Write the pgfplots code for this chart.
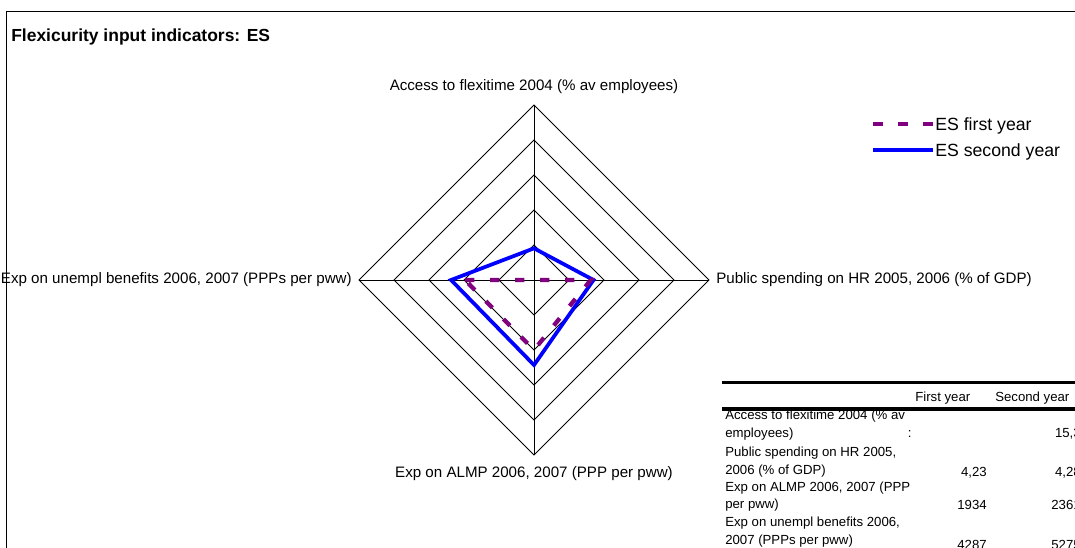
\documentclass[border=0pt]{standalone}
\usepackage{fontspec}
\setmainfont{Liberation Sans}
\usepackage{pgfplots}
\pgfplotsset{compat=1.18}
\definecolor{esPurple}{RGB}{128,0,128}
\definecolor{esBlue}{RGB}{0,0,255}
\newcommand\axlab{\fontsize{11.35}{13.6}\selectfont}
\newcommand\tabfont{\fontsize{9.9}{11.9}\selectfont}
\newcommand\legfont{\fontsize{13.25}{15.9}\selectfont}
\newcommand\titfont{\fontsize{13.1}{15.7}\selectfont\bfseries}
\begin{document}
\begin{tikzpicture}
\path[use as bounding box, clip] (0pt,0pt) rectangle (806.25pt,411pt);
\fill[white] (0pt,0pt) rectangle (806.25pt,411pt);
\begin{axis}[
  at={(400.5pt,201pt)}, anchor=origin,
  x=26.25pt, y=26.25pt,
  xmin=-5, xmax=5, ymin=-5, ymax=5,
  axis lines=none, clip=false,
  legend cell align=left,
  legend style={at={(1.462,0.9638)}, anchor=north west, draw=none, fill=none,
    inner sep=0pt, outer sep=0pt, font=\legfont,
    nodes={inner sep=0pt, text height=9.5pt, text depth=0pt},
    row sep=10pt,
    /tikz/every even column/.append style={column sep=4pt}},
  legend image code/.code={\draw[#1] (0pt,0pt) -- (45pt,0pt);},
]
% radar grid
\addplot[black, line width=0.6pt, forget plot] coordinates {(0,1)(1,0)(0,-1)(-1,0)} -- cycle;
\addplot[black, line width=0.6pt, forget plot] coordinates {(0,2)(2,0)(0,-2)(-2,0)} -- cycle;
\addplot[black, line width=0.6pt, forget plot] coordinates {(0,3)(3,0)(0,-3)(-3,0)} -- cycle;
\addplot[black, line width=0.6pt, forget plot] coordinates {(0,4)(4,0)(0,-4)(-4,0)} -- cycle;
\addplot[black, line width=0.6pt, forget plot] coordinates {(0,5)(5,0)(0,-5)(-5,0)} -- cycle;
\addplot[black, line width=0.6pt, forget plot] coordinates {(0,5)(0,-5)};
\addplot[black, line width=0.6pt, forget plot] coordinates {(-5,0)(5,0)};
% ES second year: Access (top), Public HR (right), ALMP (bottom), Unempl (left)
\addplot[esBlue, line width=2.8pt, line join=miter, forget plot] coordinates {(0,0.905)(1.70,0)(0,-2.43)(-2.37,0)} -- cycle;
% ES first year (Access missing -> 0)
\addplot[esPurple, line width=3.2pt, dash pattern=on 6.9pt off 11.85pt, forget plot] coordinates {(-1.97,0)(0,0)(1.62,0)(0,-2.0)} -- cycle;
\addlegendimage{esPurple, line width=3.5pt, dash pattern=on 7.5pt off 11.25pt}
\addlegendentry{ES first year}
\addlegendimage{esBlue, line width=3pt}
\addlegendentry{ES second year}
% category labels
\node[font=\axlab, inner sep=0pt, anchor=center] at (axis cs:0,5.514) {Access to flexitime 2004 (\% av employees)};
\node[font=\axlab, inner sep=0pt, anchor=west] at (axis cs:5.2,0) {Public spending on HR 2005, 2006 (\% of GDP)};
\node[font=\axlab, inner sep=0pt, anchor=center] at (axis cs:0,-5.52) {Exp on ALMP 2006, 2007 (PPP per pww)};
\node[font=\axlab, inner sep=0pt, anchor=east] at (axis cs:-5.2,0) {Exp on unempl benefits 2006, 2007 (PPPs per pww)};
\end{axis}
\begin{scope}[x=0.75pt, y=-0.75pt, shift={(0pt,411pt)}]
\draw[line width=0.75pt] (6,700) -- (6,12) -- (1200,12);
\node[font=\titfont, inner sep=0pt, anchor=west] at (11,36.5) {Flexicurity input indicators: ES};
% data table
\begin{scope}[every node/.style={font=\tabfont, inner sep=0pt}]
\node[anchor=west] at (915,397.7) {First year};
\node[anchor=west] at (995,397.7) {Second year};
\node[anchor=west] at (725,415.7) {Access to flexitime 2004 (\% av};
\node[anchor=west] at (725,434) {employees)};
\node[anchor=west] at (725,453) {Public spending on HR 2005,};
\node[anchor=west] at (725,470.7) {2006 (\% of GDP)};
\node[anchor=west] at (725,488) {Exp on ALMP 2006, 2007 (PPP};
\node[anchor=west] at (725,505) {per pww)};
\node[anchor=west] at (725,522.7) {Exp on unempl benefits 2006,};
\node[anchor=west] at (725,541) {2007 (PPPs per pww)};
\node[anchor=west] at (907.5,434) {:};
\node[anchor=east] at (1081,434) {15,3};
\node[anchor=east] at (987,473) {4,23};
\node[anchor=east] at (1081,473) {4,28};
\node[anchor=east] at (987,505) {1934};
\node[anchor=east] at (1081,505) {2361};
\node[anchor=east] at (987,545) {4287};
\node[anchor=east] at (1081,545) {5275};
\end{scope}
\draw[line width=2.5pt] (722,382.3) -- (1200,382.3);
\draw[line width=2.5pt] (722,409) -- (1200,409);
\end{scope}
\end{tikzpicture}
\end{document}
